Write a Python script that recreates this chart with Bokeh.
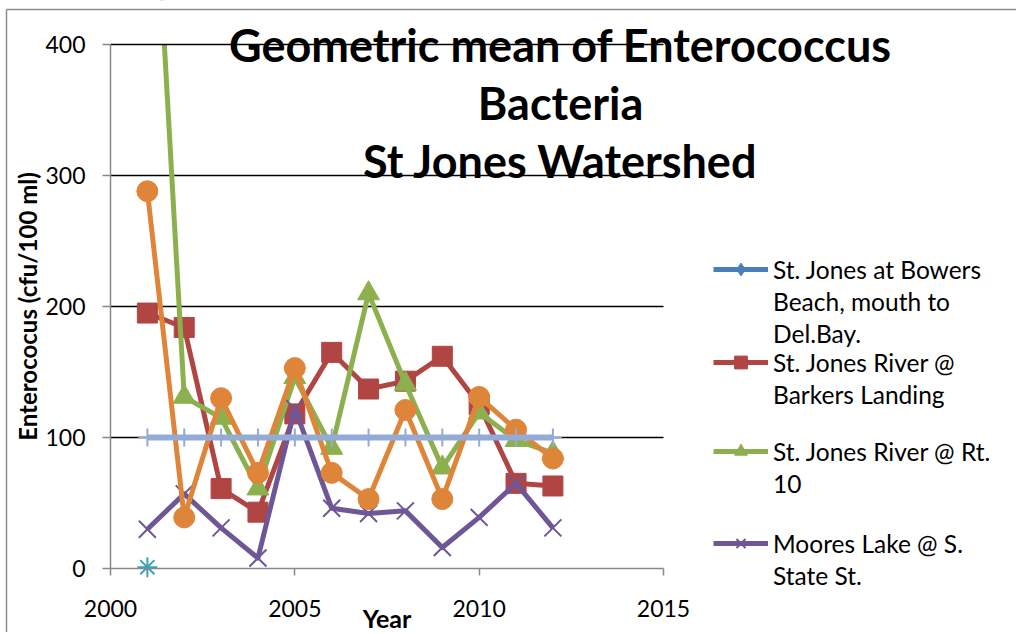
from bokeh.plotting import figure
from bokeh.models import Range1d, FixedTicker, Legend, LegendItem, Label
from bokeh.embed import file_html
from bokeh.resources import INLINE

nan = float("nan")

# ---- data ----
years = [2001, 2002, 2003, 2004, 2005, 2006, 2007, 2008, 2009, 2010, 2011, 2012]
# Bowers Beach: no visible values in the chart
bowers = [nan, nan, nan, nan, nan, nan, nan, nan, nan, nan, nan, nan]
barkers = [195, 184, 61, 43, 118, 165, 137, 143, 162, 125, 65, 63]
rt10 = [630, 131, 115, 61, 146, 92, 210, 141, 77, 119, 98, 88]
moores = [30, 57, 31, 8, 122, 46, 42, 44, 16, 39, 65, 31]
series5_years = [2001]
series5 = [1]
series6 = [288, 39, 130, 73, 153, 73, 53, 121, 53, 131, 106, 84]
series7 = [100, 100, 100, 100, 100, 100, 100, 100, 100, 100, 100, 100]

x_ticks = [2000, 2005, 2010, 2015]
y_ticks = [0, 100, 200, 300, 400]
grid_ticks = [100, 200, 300, 400]

title_lines = ["Geometric mean of Enterococcus", "Bacteria", "St Jones Watershed"]
x_title = "Year"
y_title = "Enterococus (cfu/100 ml)"
legend_labels = [
    ["St. Jones at Bowers", "Beach, mouth to", "Del.Bay."],
    ["St. Jones River @", "Barkers Landing"],
    ["St. Jones River @ Rt.", "10"],
    ["Moores Lake @ S.", "State St."],
]

FONT = "Lato"
BLUE = "#4A7EBB"
RED = "#B04544"
GREEN = "#8DB04E"
PURPLE = "#6E5697"
TEAL = "#3AA3BA"
ORANGE = "#DF8539"
LIGHTBLUE = "#93ABD6"
AXIS_GREY = "#898989"

X0, X1 = x_ticks[0], x_ticks[-1]
Y0, Y1 = y_ticks[0], y_ticks[-1]
# page-pixel layout of the plot area
LEFT_PX, RIGHT_PX = 110, 663     # page x of 2000 and 2015
TOP_PX, BOT_PX = 44, 568         # page y of 400 and 0
FRAME_W = 1016
FRAME_H = 632
ppx = (RIGHT_PX - LEFT_PX) / (X1 - X0)
ppy = (BOT_PX - TOP_PX) / (Y1 - Y0)
x_lo = X0 - LEFT_PX / ppx
x_hi = X0 + (FRAME_W - LEFT_PX) / ppx
y_hi = Y1 + TOP_PX / ppy
y_lo = Y0 - (FRAME_H - BOT_PX) / ppy

p = figure(frame_width=FRAME_W, frame_height=FRAME_H,
           min_border_left=0, min_border_right=0,
           min_border_top=0, min_border_bottom=0,
           x_range=Range1d(x_lo, x_hi), y_range=Range1d(y_lo, y_hi),
           output_backend="svg", toolbar_location=None)
p.outline_line_color = None
p.background_fill_color = "white"
p.border_fill_color = "white"
p.xgrid.visible = False
p.ygrid.visible = False

for ax in (p.xaxis[0], p.yaxis[0]):
    ax.axis_line_color = AXIS_GREY
    ax.axis_line_width = 1.5
    ax.major_tick_line_color = AXIS_GREY
    ax.major_tick_line_width = 1.5
    ax.minor_tick_line_color = None
    ax.major_tick_in = 0
    ax.major_label_text_font = FONT
    ax.major_label_text_font_size = "23px"
    ax.major_label_text_color = "black"
    ax.axis_label_text_font = FONT
    ax.axis_label_text_font_style = "bold"
    ax.axis_label_text_color = "black"

p.xaxis.fixed_location = Y0
p.yaxis.fixed_location = X0
p.xaxis.bounds = (X0, X1)
p.yaxis.bounds = (Y0, Y1)
p.xaxis.ticker = FixedTicker(ticks=x_ticks)
p.yaxis.ticker = FixedTicker(ticks=y_ticks)
p.xaxis.major_tick_out = 7
p.yaxis.major_tick_out = 8
p.xaxis.major_label_standoff = 24
p.yaxis.major_label_standoff = 17
p.yaxis.axis_label = y_title
p.yaxis.axis_label_text_font_size = "24px"
p.yaxis.axis_label_standoff = 0

# gridlines (below the series) limited to the axis extent
lower_grid = grid_ticks[:-1]
p.segment(x0=[X0] * len(lower_grid), x1=[X1] * len(lower_grid),
          y0=lower_grid, y1=lower_grid, line_color="black", line_width=1.5)

LW = 5
# series 1: Bowers Beach (no visible data)
b_l = p.line(years, bowers, line_color=BLUE, line_width=LW)
b_m = p.scatter(years, bowers, marker="diamond", size=20, color=BLUE)
# series 2: Barkers Landing
r_l = p.line(years, barkers, line_color=RED, line_width=LW, line_join="round")
r_m = p.scatter(years, barkers, marker="square", size=20, color=RED)
# series 3: Rt. 10
g_l = p.line(years, rt10, line_color=GREEN, line_width=LW, line_join="round")
g_m = p.scatter(years, rt10, marker="triangle", size=22, color=GREEN)
# series 4: Moores Lake
m_l = p.line(years, moores, line_color=PURPLE, line_width=LW, line_join="round")
m_m = p.scatter(years, moores, marker="x", size=24, line_color=PURPLE, line_width=2)
# series 5
p.scatter(series5_years, series5, marker="asterisk", size=20, line_color=TEAL, line_width=2)
# series 6
p.line(years, series6, line_color=ORANGE, line_width=LW, line_join="round")
p.scatter(years, series6, marker="circle", size=21, color=ORANGE)
# series 7
p.line(years, series7, line_color=LIGHTBLUE, line_width=6)
p.scatter(years, series7, marker="cross", size=18, line_color=LIGHTBLUE, line_width=2)

# white mask above the 400 line: the plot area ends there
p.quad(left=[X0 + 0.05], right=[X1], bottom=[Y1], top=[y_hi + 5],
       fill_color="white", line_color=None)
top_grid = grid_ticks[-1:]
p.segment(x0=[X0] * len(top_grid), x1=[X1] * len(top_grid),
          y0=top_grid, y1=top_grid, line_color="black", line_width=1.5)

# chart-area border (left and top edges are inside the window)
bx = x_lo + 6 / ppx
by = y_hi - 9 / ppy
p.segment(x0=[bx, bx], y0=[by, by], x1=[x_hi, bx], y1=[by, y_lo],
          line_color="#8C8C8C", line_width=1.5)

blank = p.line([], [], line_alpha=0)

# ---- legends (one per entry, positioned like the reference) ----
entries = [(b_l, b_m), (r_l, r_m), (g_l, g_m), (m_l, m_m)]
legend_bottoms_page = [349, 410, 499, 591]
for (ln, mk), labels, bp in zip(entries, legend_labels, legend_bottoms_page):
    items = [LegendItem(label=labels[0], renderers=[ln, mk])]
    for extra in labels[1:]:
        items.append(LegendItem(label=extra, renderers=[blank]))
    lg = Legend(items=items, location=(713, FRAME_H - bp), orientation="vertical",
                padding=0, margin=0, spacing=0,
                glyph_width=55, glyph_height=32, label_height=32,
                label_standoff=5,
                label_text_font=FONT, label_text_font_size="24.5px",
                label_text_color="black", label_text_baseline="middle",
                border_line_color=None, background_fill_alpha=0)
    p.add_layout(lg)

# ---- title ----
for txt, py in zip(title_lines, [44, 102, 160]):
    p.add_layout(Label(x=560, y=FRAME_H - py, x_units="screen", y_units="screen",
                       text=txt, text_align="center", text_baseline="middle",
                       text_font=FONT, text_font_style="bold",
                       text_font_size="45px", text_color="black"))

# ---- x axis title ----
p.add_layout(Label(x=(X0 + X1) / 2, y=FRAME_H - 617, x_units="data", y_units="screen",
                   text=x_title, text_align="center", text_baseline="middle",
                   text_font=FONT, text_font_style="bold",
                   text_font_size="25px", text_color="black"))

open("out.html", "w").write(file_html(p, INLINE))
